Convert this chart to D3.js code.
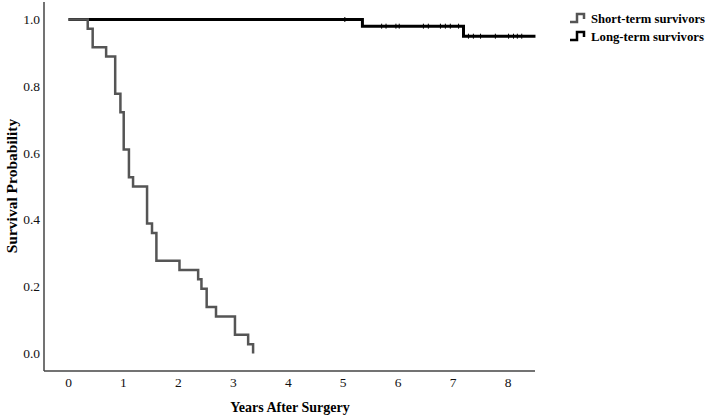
<!DOCTYPE html>
<html>
<head>
<meta charset="utf-8">
<script src="https://cdn.jsdelivr.net/npm/d3@7"></script>
<style>
  body { margin: 0; background: #fff; }
  text { font-family: "Liberation Serif", "Times New Roman", serif; }
</style>
</head>
<body>
<div class="chart"></div>
<script>
const widthPage = 709;
const heightPage = 417;

// Kaplan-Meier steps (time in years, survival after the drop)
const shortTimes = [0, 0.35, 0.44, 0.685, 0.85, 0.945, 1.005, 1.1, 1.175, 1.43, 1.52, 1.6, 2.02, 2.36, 2.42, 2.515, 2.685, 3.03, 3.27, 3.36];
const shortSurv = [1, 0.972, 0.917, 0.889, 0.778, 0.722, 0.611, 0.528, 0.5, 0.389, 0.361, 0.278, 0.25, 0.222, 0.194, 0.139, 0.111, 0.056, 0.028, 0];
const longTimes = [0, 5.35, 7.19, 8.5];
const longSurv = [1, 0.98, 0.95, 0.95];
const longCensor = [5.03, 5.7, 5.78, 5.96, 6.02, 6.46, 6.55, 6.77, 6.86, 6.95, 7.1, 7.28, 7.37, 7.5, 7.77, 8.01, 8.1, 8.17, 8.25];

const xTicks = [0, 1, 2, 3, 4, 5, 6, 7, 8];
const yTicks = [0, 0.2, 0.4, 0.6, 0.8, 1.0];
const seriesNames = ["Short-term survivors", "Long-term survivors"];
const seriesColors = ["#555555", "#000000"];

const svg = d3.select(".chart")
    .append("svg")
    .attr("width", widthPage)
    .attr("height", heightPage);

const x = d3.scaleLinear().domain([0, 8]).range([68.5, 508]);
const y = d3.scaleLinear().domain([0, 1]).range([353.5, 19.5]);

const axisLeft = 44, axisRight = 535, axisBottom = 371, axisTop = 2;

// axis lines
svg.append("line")
    .attr("x1", axisLeft).attr("y1", axisTop)
    .attr("x2", axisLeft).attr("y2", axisBottom)
    .attr("stroke", "#444").attr("stroke-width", 1.5);
svg.append("line")
    .attr("x1", axisLeft).attr("y1", axisBottom)
    .attr("x2", axisRight).attr("y2", axisBottom)
    .attr("stroke", "#444").attr("stroke-width", 1.5);

// tick labels
svg.selectAll(".ytick")
    .data(yTicks)
    .enter()
    .append("text")
    .attr("class", "ytick")
    .attr("x", 40)
    .attr("y", d => y(d) + 4.5)
    .attr("text-anchor", "end")
    .attr("font-size", 13.5)
    .attr("fill", "#111")
    .text(d => d.toFixed(1));

svg.selectAll(".xtick")
    .data(xTicks)
    .enter()
    .append("text")
    .attr("class", "xtick")
    .attr("x", d => x(d))
    .attr("y", 387)
    .attr("text-anchor", "middle")
    .attr("font-size", 13.5)
    .attr("fill", "#111")
    .text(d => d);

// axis titles
svg.append("text")
    .attr("x", 290)
    .attr("y", 412)
    .attr("text-anchor", "middle")
    .attr("font-size", 14)
    .attr("font-weight", "bold")
    .text("Years After Surgery");

svg.append("text")
    .attr("transform", "translate(17,186) rotate(-90)")
    .attr("text-anchor", "middle")
    .attr("font-size", 15.5)
    .attr("font-weight", "bold")
    .text("Survival Probability");

// step curves
const line = d3.line()
    .x(d => x(d[0]))
    .y(d => y(d[1]))
    .curve(d3.curveStepAfter);

const shortData = shortTimes.map((t, i) => [t, shortSurv[i]]);
const longData = longTimes.map((t, i) => [t, longSurv[i]]);

svg.append("path")
    .attr("d", line(longData))
    .attr("fill", "none")
    .attr("stroke", seriesColors[1])
    .attr("stroke-width", 3);

svg.append("path")
    .attr("d", line(shortData))
    .attr("fill", "none")
    .attr("stroke", seriesColors[0])
    .attr("stroke-width", 2.5);

// censor marks on long-term curve
const survAt = t => {
    let s = 1;
    longTimes.forEach((lt, i) => { if (lt <= t) s = longSurv[i]; });
    return s;
};
svg.selectAll(".censor")
    .data(longCensor)
    .enter()
    .append("line")
    .attr("class", "censor")
    .attr("x1", d => x(d)).attr("x2", d => x(d))
    .attr("y1", d => y(survAt(d)) - 2.5)
    .attr("y2", d => y(survAt(d)) + 2.5)
    .attr("stroke", "#000")
    .attr("stroke-width", 1);

// legend
const legend = svg.selectAll(".legend")
    .data(seriesNames)
    .enter()
    .append("g")
    .attr("class", "legend")
    .attr("transform", (d, i) => "translate(570," + (18 + i * 18) + ")");

legend.append("path")
    .attr("d", "M0,4 L7,4 L7,-4 L14,-4 L14,1")
    .attr("fill", "none")
    .attr("stroke", (d, i) => seriesColors[i])
    .attr("stroke-width", 2.5);

legend.append("text")
    .attr("x", 21)
    .attr("y", 5)
    .attr("font-size", 13)
    .attr("font-weight", "bold")
    .attr("textLength", (d, i) => i === 0 ? 114 : 113)
    .attr("lengthAdjust", "spacingAndGlyphs")
    .text(d => d);
</script>
</body>
</html>
